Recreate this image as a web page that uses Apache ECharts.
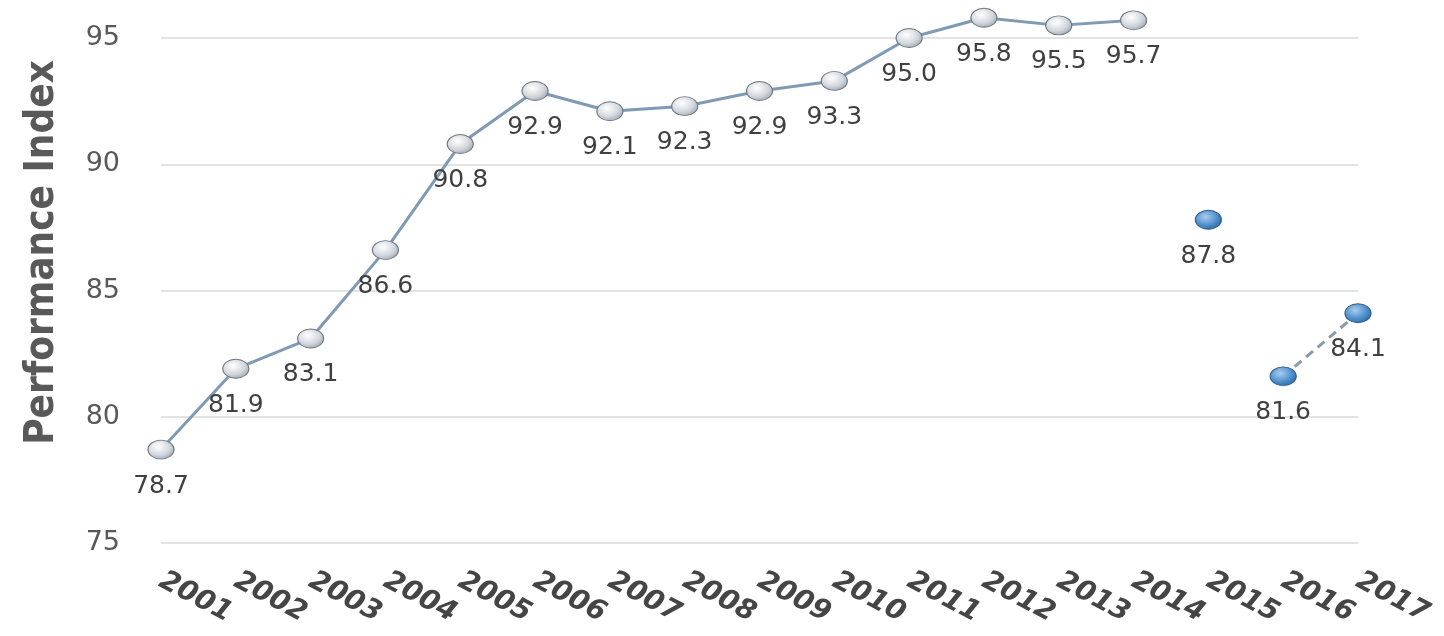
<!DOCTYPE html>
<html>
<head>
<meta charset="utf-8">
<script src="https://cdn.jsdelivr.net/npm/echarts@6/dist/echarts.min.js"></script>
<style>
  html, body { margin: 0; padding: 0; background: #fff; }
  #chart { width: 1444px; height: 636px; }
</style>
</head>
<body>
<div id="chart"></div>
<script>
const years = ["2001", "2002", "2003", "2004", "2005", "2006", "2007", "2008", "2009",
  "2010", "2011", "2012", "2013", "2014", "2015", "2016", "2017"];
// 2001-2014 measured series
const measured = [78.7, 81.9, 83.1, 86.6, 90.8, 92.9, 92.1, 92.3, 92.9, 93.3, 95.0, 95.8, 95.5, 95.7];
// 2015 single point
const single2015 = [87.8];
// 2016-2017 dashed pair
const pair2016 = [81.6, 84.1];
const yTicks = [75, 80, 85, 90, 95];

const chart = echarts.init(document.getElementById("chart"));

// pad each series out to the full year range
function spread(values, startYear) {
  const start = years.indexOf(startYear);
  return years.map((y, i) => (i >= start && i < start + values.length ? values[i - start] : null));
}

const silverMarker = {
  type: "radial", x: 0.4, y: 0.35, r: 0.7,
  colorStops: [{ offset: 0, color: "#ffffff" }, { offset: 0.6, color: "#d3d8de" }, { offset: 1, color: "#9fa7b0" }]
};
const blueMarker = {
  type: "radial", x: 0.4, y: 0.35, r: 0.7,
  colorStops: [{ offset: 0, color: "#a9cdf0" }, { offset: 0.6, color: "#4f8fcc" }, { offset: 1, color: "#2c679f" }]
};

const labelStyle = {
  show: true,
  position: "bottom",
  distance: 14,
  fontFamily: "DejaVu Sans",
  fontSize: 25,
  color: "#404040",
  formatter: (p) => p.value.toFixed(1)
};

const option = {
  backgroundColor: "#ffffff",
  animation: false,
  grid: { left: 161, right: 86, top: 38, bottom: 93, containLabel: false },
  xAxis: {
    type: "category",
    data: years,
    boundaryGap: false,
    axisLine: { show: false },
    axisTick: { show: false },
    axisLabel: {
      interval: 0,
      rotate: -28,
      margin: 36,
      fontFamily: "DejaVu Sans",
      fontSize: 28,
      fontWeight: "bold",
      fontStyle: "italic",
      color: "#454545"
    }
  },
  yAxis: {
    type: "value",
    min: yTicks[0],
    max: yTicks[yTicks.length - 1],
    interval: 5,
    name: "Performance Index",
    nameLocation: "middle",
    nameGap: 98,
    nameTextStyle: {
      fontFamily: "DejaVu Sans Condensed, Liberation Sans, sans-serif",
      fontSize: 40,
      fontWeight: "bold",
      color: "#595959",
      padding: [0, 0, 0, 76]
    },
    axisLine: { show: false },
    axisTick: { show: false },
    axisLabel: { margin: 41, fontFamily: "DejaVu Sans", fontSize: 27, color: "#595959" },
    splitLine: { lineStyle: { color: "#e3e3e3", width: 2 } }
  },
  series: [
    {
      type: "line",
      data: spread(measured, "2001"),
      clip: false,
      symbol: "circle",
      symbolSize: [26, 19],
      lineStyle: { color: "#7e9ab4", width: 3 },
      itemStyle: { color: silverMarker, borderColor: "#6f7680", borderWidth: 1 },
      label: labelStyle
    },
    {
      type: "line",
      data: spread(single2015, "2015"),
      clip: false,
      symbol: "circle",
      symbolSize: [26, 19],
      itemStyle: { color: blueMarker, borderColor: "#2f5f8f", borderWidth: 1 },
      label: labelStyle
    },
    {
      type: "line",
      data: spread(pair2016, "2016"),
      clip: false,
      symbol: "circle",
      symbolSize: [26, 19],
      lineStyle: { color: "#8a9aab", width: 3, type: [9, 6] },
      itemStyle: { color: blueMarker, borderColor: "#2f5f8f", borderWidth: 1 },
      label: labelStyle
    }
  ]
};

chart.setOption(option);
</script>
</body>
</html>
